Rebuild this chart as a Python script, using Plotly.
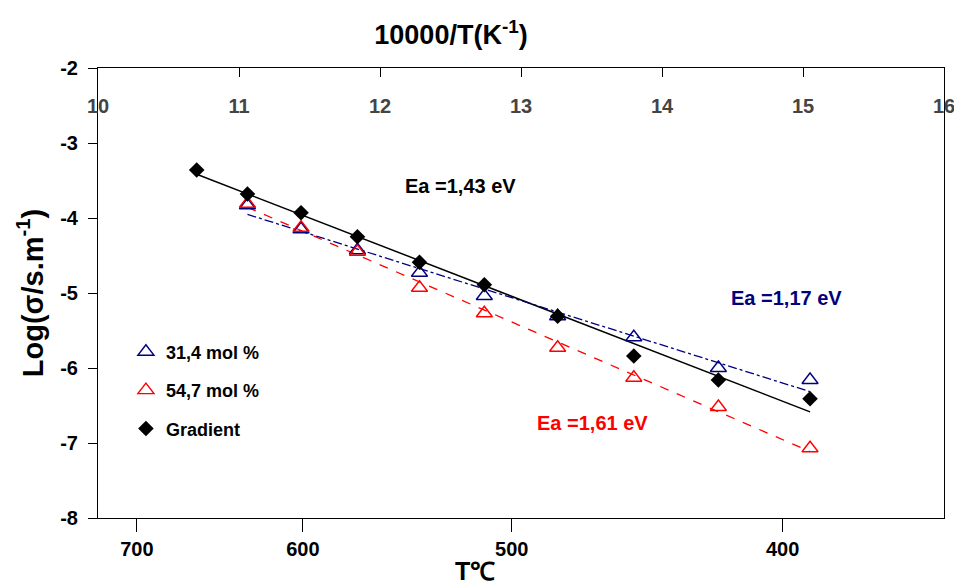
import numpy as np
import plotly.graph_objects as go

# ---- data (10000/T in K^-1, log conductivity) ----
x_grad = [10.70, 11.06, 11.44, 11.84, 12.28, 12.74, 13.26, 13.80, 14.40, 15.05]
y_grad = [-3.36, -3.68, -3.93, -4.25, -4.59, -4.89, -5.31, -5.84, -6.16, -6.41]

x_314 = [11.06, 11.44, 11.84, 12.28, 12.74, 13.26, 13.80, 14.40, 15.05]
y_314 = [-3.83, -4.15, -4.43, -4.73, -5.04, -5.31, -5.59, -6.00, -6.16]

x_547 = [11.06, 11.44, 11.84, 12.28, 12.74, 13.26, 13.80, 14.40, 15.05]
y_547 = [-3.81, -4.13, -4.45, -4.93, -5.27, -5.73, -6.13, -6.52, -7.07]

temp_ticks_c = [700, 600, 500, 400]
inv_T_ticks = [10, 11, 12, 13, 14, 15, 16]
y_ticks = [-2, -3, -4, -5, -6, -7, -8]

NAVY = "#000080"
RED = "#ff0000"
SANS = "Liberation Sans, Arial, sans-serif"


def fit_line(xs, ys):
    p = np.polyfit(xs, ys, 1)
    xe = np.array([min(xs), max(xs)])
    return xe, np.polyval(p, xe)


fig = go.Figure()

# fit lines
fx, fy = fit_line(x_grad, y_grad)
fig.add_trace(go.Scatter(x=fx, y=fy, mode="lines", line=dict(color="black", width=1.5),
                         showlegend=False, hoverinfo="skip"))
fx, fy = fit_line(x_314, y_314)
fig.add_trace(go.Scatter(x=fx, y=fy, mode="lines", line=dict(color=NAVY, width=1.3, dash="dashdot"),
                         showlegend=False, hoverinfo="skip"))
fx, fy = fit_line(x_547, y_547)
fig.add_trace(go.Scatter(x=fx, y=fy, mode="lines", line=dict(color=RED, width=1.3, dash="dash"),
                         showlegend=False, hoverinfo="skip"))

# data markers
fig.add_trace(go.Scatter(x=x_314, y=y_314, mode="markers", name="<b>31,4 mol %</b>",
                         legendgroup="a",
                         marker=dict(symbol="triangle-up-open", size=14, color=NAVY, line=dict(width=1.4))))
fig.add_trace(go.Scatter(x=x_547, y=y_547, mode="markers", name="<b>54,7 mol %</b>",
                         legendgroup="b",
                         marker=dict(symbol="triangle-up-open", size=14, color=RED, line=dict(width=1.4))))
fig.add_trace(go.Scatter(x=x_grad, y=y_grad, mode="markers", name="<b>Gradient</b>",
                         legendgroup="c",
                         marker=dict(symbol="diamond", size=12, color="black")))

# dummy trace for the bottom temperature axis
fig.add_trace(go.Scatter(x=[10, 16], y=[-8, -8], xaxis="x2", mode="markers",
                         marker=dict(opacity=0), showlegend=False, hoverinfo="skip"))

fig.update_layout(
    width=954, height=585,
    paper_bgcolor="white", plot_bgcolor="white",
    margin=dict(l=98, r=10, t=68, b=67),
    font=dict(family=SANS, color="black", size=17),
    title=dict(text="<b>10000/T(K<sup>-1</sup>)</b>", font=dict(family=SANS, size=27),
               x=451 / 954, xanchor="center", xref="container",
               y=1 - 35 / 585, yanchor="middle", yref="container"),
    xaxis=dict(
        range=[10, 16], side="top", tickvals=inv_T_ticks,
        ticktext=[f"<b>{v}</b>" for v in inv_T_ticks],
        ticks="inside", ticklen=9, tickcolor="black", tickwidth=1,
        ticklabelposition="inside", ticklabelstandoff=23, ticklabeloverflow="allow",
        showline=True, linecolor="black", linewidth=1, mirror=True,
        showgrid=False, zeroline=False, automargin=False,
        tickfont=dict(family=SANS, size=20),
    ),
    xaxis2=dict(
        range=[10, 16], overlaying="x", side="bottom", anchor="y",
        tickvals=[10000 / (t + 273.15) for t in temp_ticks_c],
        ticktext=[f"<b>{t}</b>" for t in temp_ticks_c],
        ticks="outside", ticklen=13, tickcolor="black", tickwidth=1,
        showline=True, linecolor="black", linewidth=1,
        showgrid=False, zeroline=False, automargin=False,
        tickfont=dict(family=SANS, size=20),
    ),
    yaxis=dict(
        range=[-8, -2], tickvals=y_ticks, ticktext=[f"<b>{v}</b>" for v in y_ticks],
        ticks="outside", ticklen=9, tickcolor="black", tickwidth=1,
        ticklabelstandoff=6,
        showline=True, linecolor="black", linewidth=1, mirror=True,
        showgrid=False, zeroline=False, automargin=False,
        tickfont=dict(family=SANS, size=20),
        title=dict(text="<b>Log(\u03c3/s.m<sup>-1</sup>)</b>", font=dict(family=SANS, size=29), standoff=8),
    ),
    legend=dict(
        x=0.033, y=0.41, xanchor="left", yanchor="top",
        bgcolor="rgba(0,0,0,0)", font=dict(family=SANS, size=18),
        tracegroupgap=12, itemwidth=30,
    ),
    annotations=[
        dict(x=12.57, y=-3.57, xref="x", yref="y", text="<b>Ea =1,43 eV</b>", showarrow=False,
             font=dict(family=SANS, size=20, color="black")),
        dict(x=14.88, y=-5.07, xref="x", yref="y", text="<b>Ea =1,17 eV</b>", showarrow=False,
             font=dict(family=SANS, size=20, color=NAVY)),
        dict(x=13.51, y=-6.73, xref="x", yref="y", text="<b>Ea =1,61 eV</b>", showarrow=False,
             font=dict(family=SANS, size=20, color=RED)),
        dict(x=(475 - 98) / 846, y=-(571 - 518) / 450, xref="paper", yref="paper", text="<b>T\u2103</b>",
             showarrow=False, font=dict(family=SANS, size=25), xanchor="center", yanchor="middle"),
    ],
)

fig.write_html("out.html", post_script="document.body.style.margin='0';",
               config={"displayModeBar": False})
